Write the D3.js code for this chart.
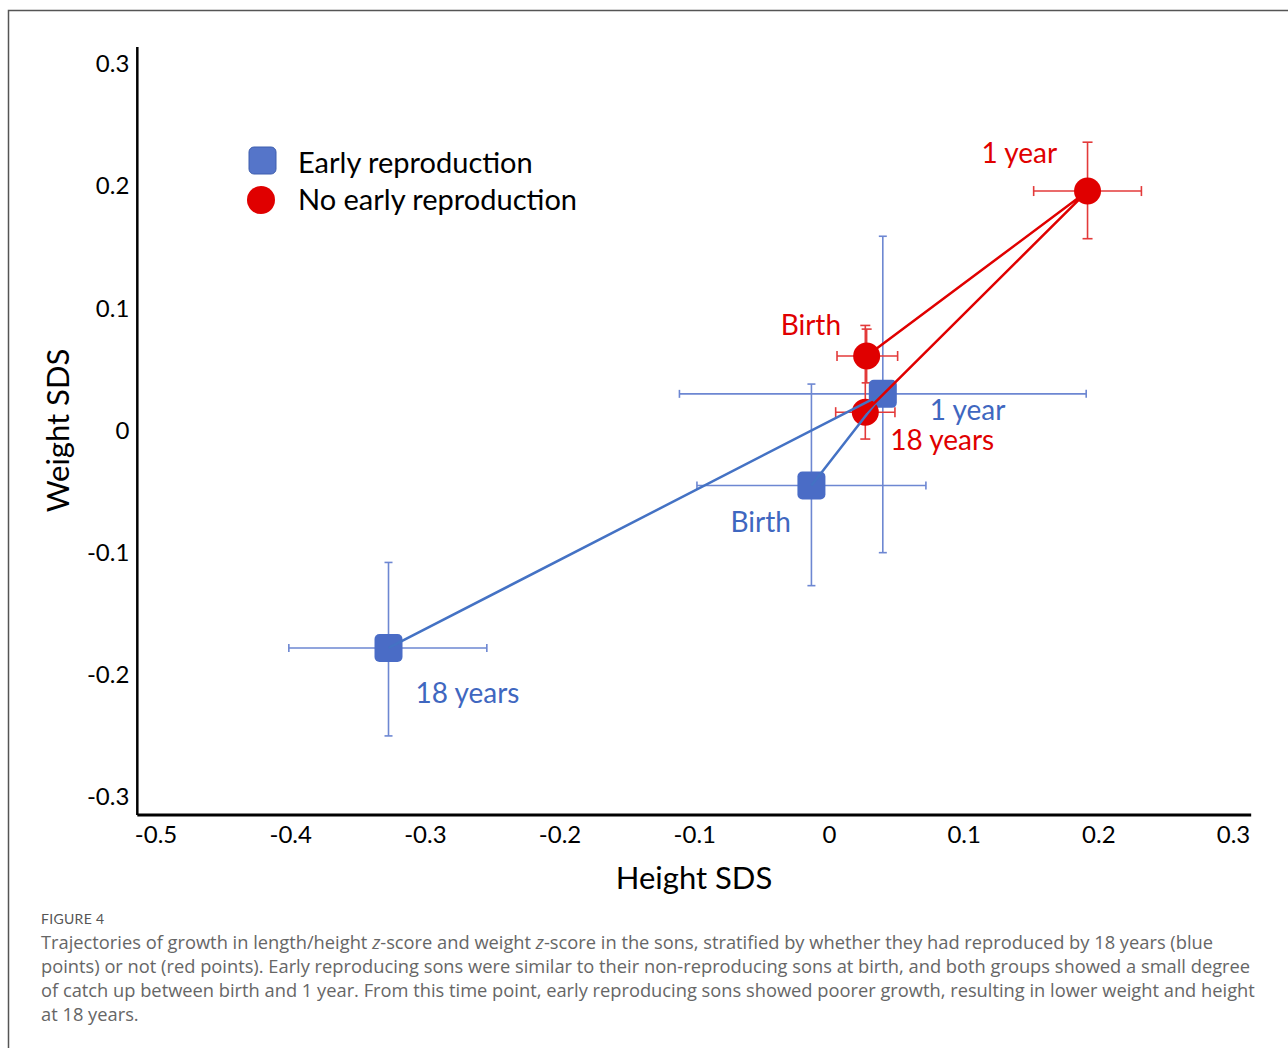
<!DOCTYPE html>
<html lang="en">
<head>
<meta charset="UTF-8">
<title>Figure 4</title>
<script src="https://d3js.org/d3.v7.min.js"></script>
<style>
  body { margin: 0; background: #fff; }
  .tick text { font-family: Lato, "Open Sans", sans-serif; }
</style>
</head>
<body>
<script>
// time points and groups
const timepoints = ["Birth", "1 year", "18 years"];
const groups = ["Early reproduction", "No early reproduction"];

// early reproduction (blue squares)
const earlyHeight   = [-0.013, 0.040, -0.327];
const earlyWeight   = [-0.045, 0.030, -0.178];
const earlyHeightLo = [-0.098, -0.111, -0.401];
const earlyHeightHi = [0.072, 0.191, -0.254];
const earlyWeightLo = [-0.127, -0.100, -0.250];
const earlyWeightHi = [0.038, 0.159, -0.108];

// no early reproduction (red circles)
const noEarlyHeight   = [0.028, 0.192, 0.027];
const noEarlyWeight   = [0.061, 0.196, 0.015];
const noEarlyHeightLo = [0.006, 0.152, 0.005];
const noEarlyHeightHi = [0.051, 0.232, 0.049];
const noEarlyWeightLo = [0.039, 0.157, -0.007];
const noEarlyWeightHi = [0.083, 0.236, 0.086];

const xTicks = [-0.5, -0.4, -0.3, -0.2, -0.1, 0, 0.1, 0.2, 0.3];
const yTicks = [-0.3, -0.2, -0.1, 0, 0.1, 0.2, 0.3];

const caption = [
  "Trajectories of growth in length/height |z|-score and weight |z|-score in the sons, stratified by whether they had reproduced by 18 years (blue",
  "points) or not (red points). Early reproducing sons were similar to their non-reproducing sons at birth, and both groups showed a small degree",
  "of catch up between birth and 1 year. From this time point, early reproducing sons showed poorer growth, resulting in lower weight and height",
  "at 18 years."
];

const width = 1288, height = 1048;
const blue = "#4a6cc6", blueBar = "#6d87d2", red = "#e00000", redBar = "#e33a3a";
const font = "Lato, 'Open Sans', sans-serif";

const svg = d3.select("body").append("svg")
  .attr("width", width).attr("height", height);

// frame
svg.append("path")
  .attr("d", "M8.5," + height + "V10.5H" + width)
  .attr("fill", "none").attr("stroke", "#555").attr("stroke-width", 1.5);

const x = d3.scaleLinear().domain([-0.5, 0.3]).range([155.5, 1233]);
const y = d3.scaleLinear().domain([-0.3, 0.3]).range([797, 64]);
const ext = 0.0135;
const fmt = d => d === 0 ? "0" : d3.format(".1f")(d).replace("\u2212", "-");

// axes
const xAxis = svg.append("g")
  .attr("transform", "translate(0," + y(-0.3 - 0.0148) + ")")
  .call(d3.axisBottom(x).tickValues(xTicks).tickSize(0).tickPadding(11).tickFormat(fmt));
xAxis.select(".domain").remove();
xAxis.selectAll("text").attr("font-size", 24).attr("fill", "#000");

const yAxis = svg.append("g")
  .attr("transform", "translate(" + x(-0.5 - ext) + ",0)")
  .call(d3.axisLeft(y).tickValues(yTicks).tickSize(0).tickPadding(8).tickFormat(fmt));
yAxis.select(".domain").remove();
yAxis.selectAll("text").attr("font-size", 24).attr("fill", "#000");

svg.append("line")
  .attr("x1", x(-0.5 - ext)).attr("x2", x(0.3 + ext))
  .attr("y1", y(-0.3 - 0.0148)).attr("y2", y(-0.3 - 0.0148))
  .attr("stroke", "#000").attr("stroke-width", 3);
svg.append("line")
  .attr("x1", x(-0.5 - ext)).attr("x2", x(-0.5 - ext))
  .attr("y1", y(0.3 + 0.014)).attr("y2", y(-0.3 - 0.0148))
  .attr("stroke", "#000").attr("stroke-width", 2.5);

// axis titles
svg.append("text")
  .attr("x", 694).attr("y", 889)
  .attr("text-anchor", "middle").attr("font-family", font).attr("font-size", 31)
  .text("Height SDS");
svg.append("text")
  .attr("transform", "translate(69," + y(0) + ") rotate(-90)")
  .attr("text-anchor", "middle").attr("font-family", font).attr("font-size", 31)
  .text("Weight SDS");

function makeRows(hx, wy, hlo, hhi, wlo, whi) {
  return timepoints.map((t, i) => ({
    t: t, x: hx[i], y: wy[i], xlo: hlo[i], xhi: hhi[i], ylo: wlo[i], yhi: whi[i]
  }));
}
const early = makeRows(earlyHeight, earlyWeight, earlyHeightLo, earlyHeightHi, earlyWeightLo, earlyWeightHi);
const noEarly = makeRows(noEarlyHeight, noEarlyWeight, noEarlyHeightLo, noEarlyHeightHi, noEarlyWeightLo, noEarlyWeightHi);

function errorBars(rows, color, cap) {
  const g = svg.append("g").attr("stroke", color).attr("stroke-width", 1.6).attr("fill", "none");
  rows.forEach(d => {
    g.append("line").attr("x1", x(d.xlo)).attr("x2", x(d.xhi)).attr("y1", y(d.y)).attr("y2", y(d.y));
    g.append("line").attr("x1", x(d.x)).attr("x2", x(d.x)).attr("y1", y(d.ylo)).attr("y2", y(d.yhi));
    [d.xlo, d.xhi].forEach(v => g.append("line")
      .attr("x1", x(v)).attr("x2", x(v)).attr("y1", y(d.y) - cap).attr("y2", y(d.y) + cap));
    [d.ylo, d.yhi].forEach(v => g.append("line")
      .attr("y1", y(v)).attr("y2", y(v)).attr("x1", x(d.x) - cap).attr("x2", x(d.x) + cap));
  });
}

const line = d3.line().x(d => x(d.x)).y(d => y(d.y));

// error bars first, then markers and lines
errorBars(early, blueBar, 4);
errorBars(noEarly, redBar, 5);

svg.selectAll(".sq").data(early).enter().append("rect")
  .attr("x", d => x(d.x) - 14).attr("y", d => y(d.y) - 14)
  .attr("width", 28).attr("height", 28).attr("rx", 5)
  .attr("fill", blue);
svg.selectAll(".dot").data(noEarly).enter().append("circle")
  .attr("cx", d => x(d.x)).attr("cy", d => y(d.y)).attr("r", 13.5)
  .attr("fill", red);

svg.append("path").datum(early).attr("d", line)
  .attr("fill", "none").attr("stroke", "#4472c4").attr("stroke-width", 2.5);
svg.append("path").datum(noEarly).attr("d", line)
  .attr("fill", "none").attr("stroke", red).attr("stroke-width", 2.5);

// point labels
const earlyOffsets = [[-81, 47], [47, 26], [27, 55]];
const noEarlyOffsets = [[-86, -21], [-106, -28], [25, 38]];
early.forEach((d, i) => svg.append("text")
  .attr("x", x(d.x) + earlyOffsets[i][0]).attr("y", y(d.y) + earlyOffsets[i][1])
  .attr("font-family", font).attr("font-size", 28).attr("fill", "#3f67c0").text(d.t));
noEarly.forEach((d, i) => svg.append("text")
  .attr("x", x(d.x) + noEarlyOffsets[i][0]).attr("y", y(d.y) + noEarlyOffsets[i][1])
  .attr("font-family", font).attr("font-size", 28).attr("fill", red).text(d.t));

// legend
const legend = svg.append("g").attr("transform", "translate(262,0)");
legend.append("rect").attr("x", -13).attr("y", 147).attr("width", 27).attr("height", 27)
  .attr("rx", 5).attr("fill", "#5575c9").attr("stroke", "#3f5fae").attr("stroke-width", 1);
legend.append("circle").attr("cx", -1).attr("cy", 200).attr("r", 14).attr("fill", red);
groups.forEach((g, i) => legend.append("text")
  .attr("x", 36).attr("y", 173 + i * 37)
  .attr("font-family", font).attr("font-size", 29).attr("fill", "#000").text(g));

// caption
svg.append("text").attr("x", 41).attr("y", 924)
  .attr("font-family", font).attr("font-size", 14).attr("fill", "#555")
  .attr("letter-spacing", 0.3).text("FIGURE 4");
caption.forEach((line, i) => {
  const t = svg.append("text").attr("x", 41).attr("y", 949 + i * 24)
    .attr("font-family", "'Open Sans', Lato, sans-serif").attr("font-size", 18.3).attr("fill", "#666");
  line.split("|").forEach((part, j) => {
    t.append("tspan").attr("font-style", j % 2 ? "italic" : null).text(part);
  });
});
</script>
</body>
</html>
